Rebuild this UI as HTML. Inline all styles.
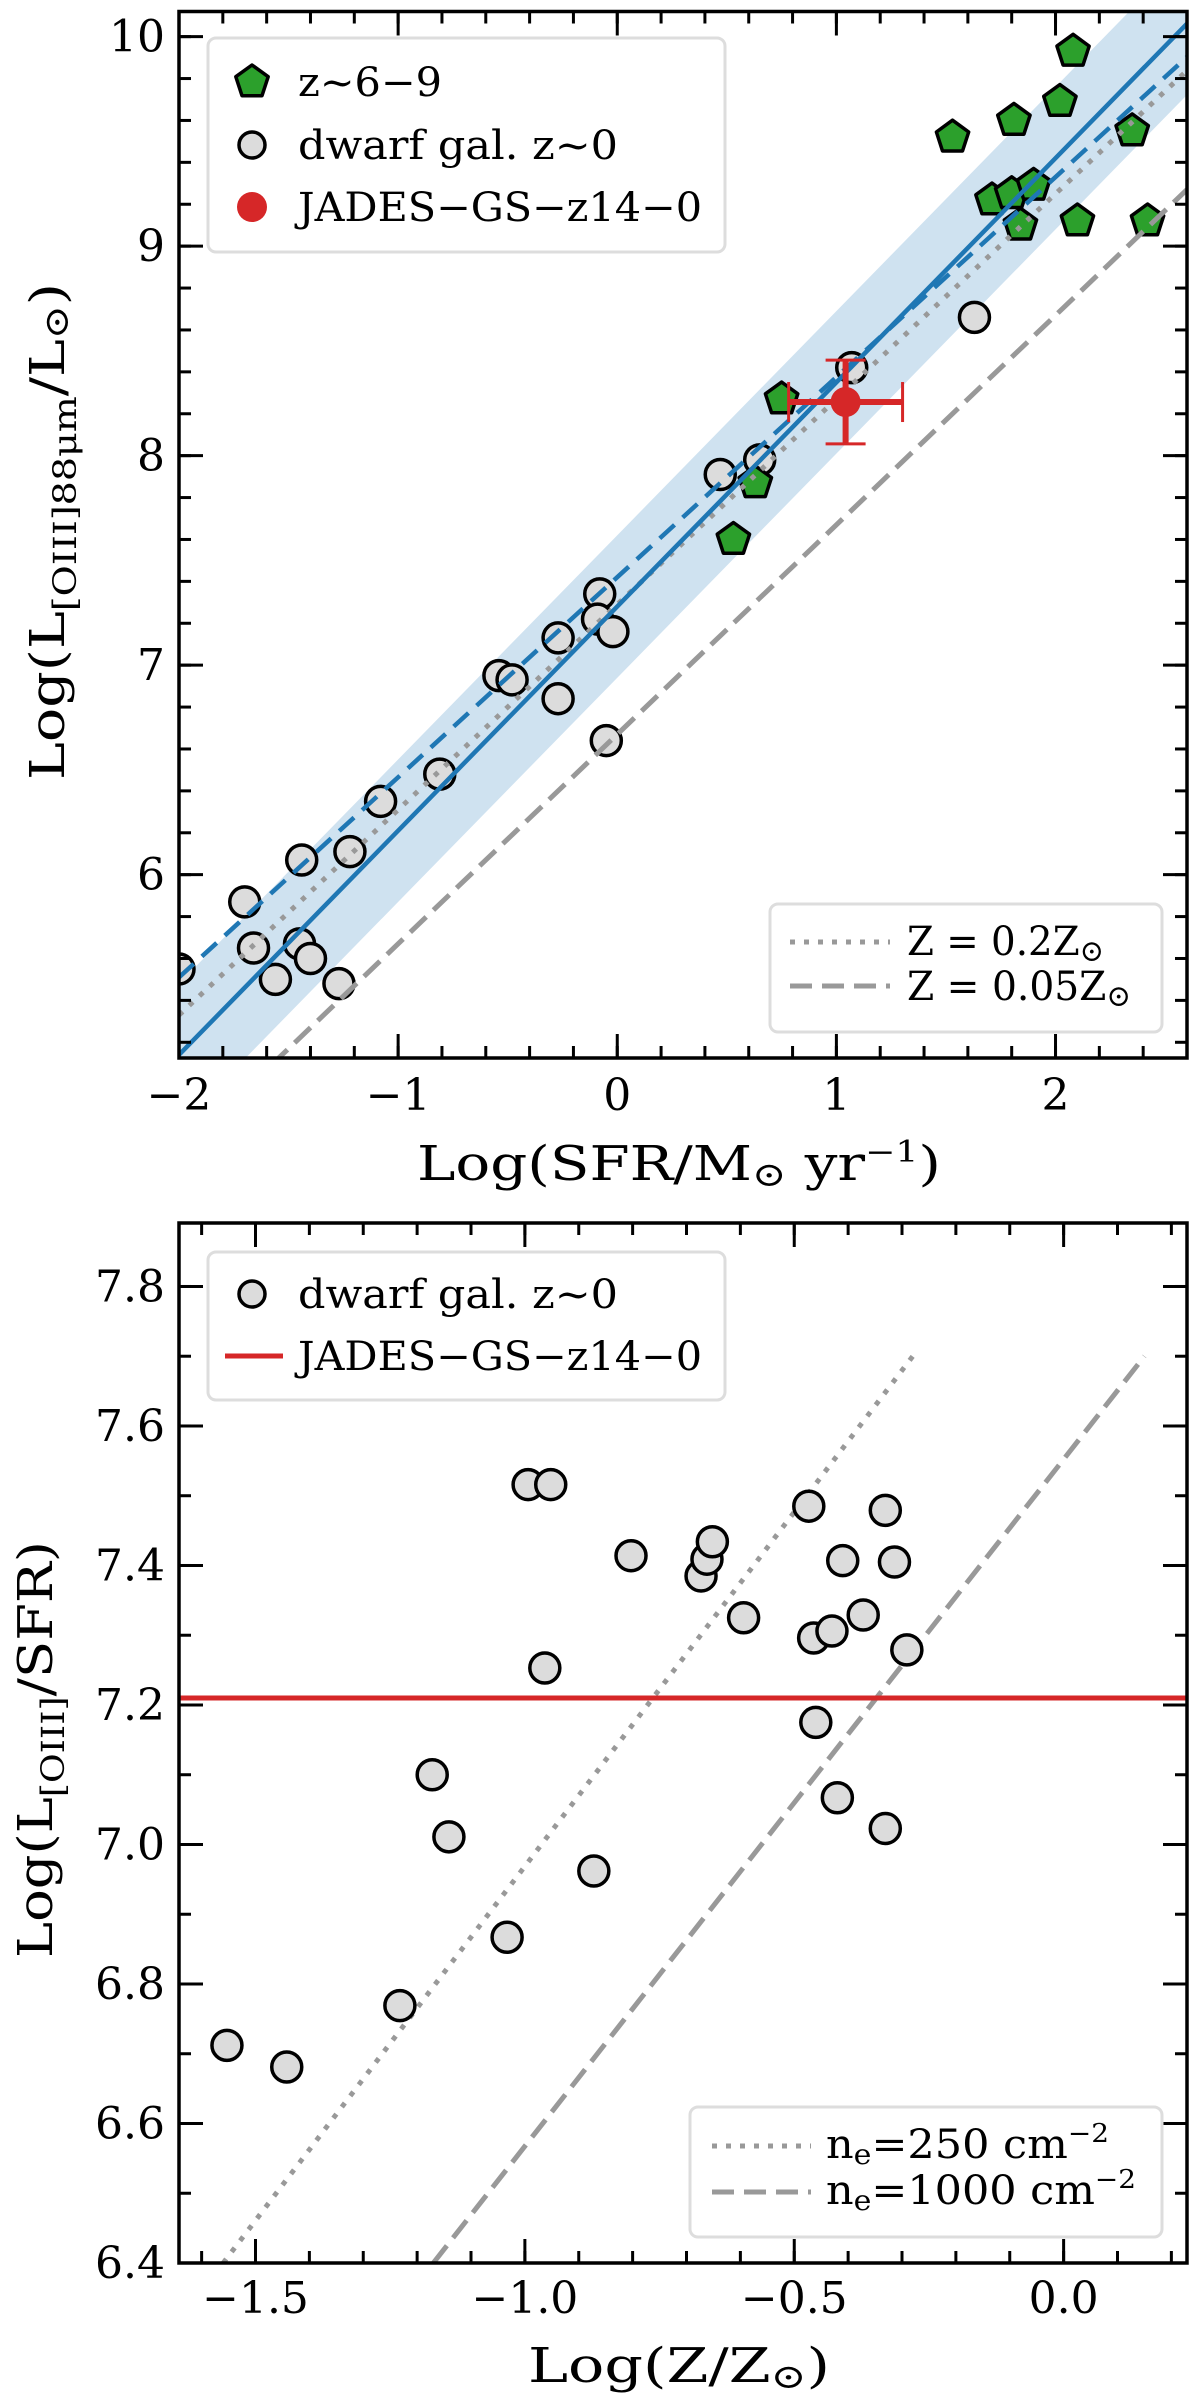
<!DOCTYPE html>
<html><head><meta charset="utf-8"><title>[OIII] vs SFR</title>
<style>
html,body{margin:0;padding:0;background:#fff;}
svg{display:block;}
text{font-family:"DejaVu Serif","Liberation Serif",serif;fill:#000;}
</style></head>
<body>
<svg id="chart" width="1200" height="2408" viewBox="0 0 1200 2408" xmlns="http://www.w3.org/2000/svg"></svg>
<script>
// ---------- Top panel data ----------
const dwarfSfrX = [-2.0,-1.7,-1.66,-1.56,-1.45,-1.44,-1.4,-1.27,-1.22,-1.08,-0.81,-0.54,-0.48,-0.27,-0.27,-0.08,-0.09,-0.02,-0.05,0.47,0.65,1.07,1.63];
const dwarfLumY = [5.55,5.87,5.65,5.50,5.67,6.07,5.60,5.48,6.11,6.35,6.48,6.95,6.93,7.13,6.84,7.34,7.22,7.16,6.64,7.91,7.98,8.42,8.66];
const highzSfrX = [0.53,0.63,0.75,1.53,1.71,1.80,1.81,1.84,1.90,2.02,2.08,2.10,2.35,2.42];
const highzLumY = [7.60,7.87,8.27,9.52,9.22,9.25,9.60,9.10,9.29,9.69,9.93,9.12,9.55,9.12];
const jadesPoint = [1.042, 8.256];
const jadesXErr = [0.26, 0.26];
const jadesYErr = [0.20, 0.20];
const fitSolid = [7.28, 1.07];
const fitBand = [0.34];
const fitDashedBlue = [7.42, 0.955];
const modelDotted = [7.29, 0.98];
const modelDashed = [6.67, 1.0];
const topXTicks = [-2,-1,0,1,2];
const topYTicks = [6,7,8,9,10];

// ---------- Bottom panel data ----------
const metalX = [-1.553,-1.442,-1.232,-1.172,-1.141,-1.033,-0.994,-0.952,-0.963,-0.872,-0.803,-0.673,-0.662,-0.652,-0.594,-0.473,-0.464,-0.460,-0.430,-0.420,-0.410,-0.372,-0.331,-0.331,-0.314,-0.291];
const ratioY = [6.712,6.681,6.769,7.100,7.011,6.867,7.516,7.516,7.253,6.962,7.414,7.385,7.409,7.434,7.325,7.485,7.296,7.175,7.306,7.067,7.407,7.329,7.479,7.023,7.405,7.279];
const jadesRatio = [7.21];
const ne250Line = [[-1.56,6.40],[-0.28,7.70]];
const ne1000Line = [[-1.17,6.40],[0.15,7.70]];
const botXTicks = [-1.5,-1.0,-0.5,0.0];
const botXTickLabels = ["\u22121.5","\u22121.0","\u22120.5","0.0"];
const botYTicks = [6.4,6.6,6.8,7.0,7.2,7.4,7.6,7.8];

const NS = "http://www.w3.org/2000/svg";
const svg = document.getElementById('chart');
function mk(tag, attrs, parent){
  const e = document.createElementNS(NS, tag);
  for (const k in attrs) e.setAttribute(k, attrs[k]);
  (parent||svg).appendChild(e);
  return e;
}

const T = {L:179,R:1187,Tp:11.5,B:1058,x0:-2,x1:2.6,y0:5.125,y1:10.12};
const tx = v => T.L + (v - T.x0) * (T.R - T.L) / (T.x1 - T.x0);
const ty = v => T.B - (v - T.y0) * (T.B - T.Tp) / (T.y1 - T.y0);
const Bo = {L:179,R:1187,Tp:1223,B:2263,x0:-1.642,x1:0.229,y0:6.4,y1:7.891};
const bx = v => Bo.L + (v - Bo.x0) * (Bo.R - Bo.L) / (Bo.x1 - Bo.x0);
const by = v => Bo.B - (v - Bo.y0) * (Bo.B - Bo.Tp) / (Bo.y1 - Bo.y0);

function clipFor(id, A){
  const cp = mk('clipPath',{id:id});
  mk('rect',{x:A.L,y:A.Tp,width:A.R-A.L,height:A.B-A.Tp},cp);
}
clipFor('clipTop',T); clipFor('clipBot',Bo);

// ===== Top panel =====
const gTop = mk('g',{'clip-path':'url(#clipTop)'});


const lineY = (p,x) => p[0] + p[1]*x;
const band = mk('polygon',{points:[
  [tx(T.x0),ty(lineY(fitSolid,T.x0)+fitBand[0])],[tx(T.x1),ty(lineY(fitSolid,T.x1)+fitBand[0])],
  [tx(T.x1),ty(lineY(fitSolid,T.x1)-fitBand[0])],[tx(T.x0),ty(lineY(fitSolid,T.x0)-fitBand[0])]].map(p=>p.join(',')).join(' '),
  fill:'#cfe2f0'},gTop);


dwarfSfrX.forEach((x,i)=>{
  const c = mk('circle',{cx:tx(x),cy:ty(dwarfLumY[i]),r:15,fill:'#dcdcdc',stroke:'#000','stroke-width':3.5},gTop);
  
  
});
function pent(cx,cy,r){
  const pts=[];
  for(let k=0;k<5;k++){const a=-Math.PI/2+k*2*Math.PI/5;pts.push((cx+r*Math.cos(a)).toFixed(1)+','+(cy+r*Math.sin(a)).toFixed(1));}
  return pts.join(' ');
}
highzSfrX.forEach((x,i)=>{
  const p = mk('polygon',{points:pent(tx(x),ty(highzLumY[i]),17),fill:'#2ca02c',stroke:'#000','stroke-width':3.5,'stroke-linejoin':'round'},gTop);
  
  
});
function fitLine(p,attrs,name){
  const l = mk('line',Object.assign({x1:tx(T.x0),y1:ty(lineY(p,T.x0)),x2:tx(T.x1),y2:ty(lineY(p,T.x1))},attrs),gTop);
  
  
}
fitLine(modelDotted,{stroke:'#999','stroke-width':5,'stroke-dasharray':'5 9'},'model-line-0.2zsun');
fitLine(modelDashed,{stroke:'#999','stroke-width':5,'stroke-dasharray':'22 10'},'model-line-0.05zsun');
fitLine(fitDashedBlue,{stroke:'#1f77b4','stroke-width':4.5,'stroke-dasharray':'20 11'},'fit-dashed-line');
fitLine(fitSolid,{stroke:'#1f77b4','stroke-width':4.5},'fit-solid-line');
const gj = mk('g',{stroke:'#d62728','stroke-width':6,fill:'none'},gTop);


const jx=tx(jadesPoint[0]), jy=ty(jadesPoint[1]);
const xl=tx(jadesPoint[0]-jadesXErr[0]), xr=tx(jadesPoint[0]+jadesXErr[1]);
const yt=ty(jadesPoint[1]+jadesYErr[1]), yb=ty(jadesPoint[1]-jadesYErr[0]);
mk('line',{x1:xl,y1:jy,x2:xr,y2:jy},gj);
mk('line',{x1:jx,y1:yt,x2:jx,y2:yb},gj);
mk('line',{x1:xl,y1:jy-20,x2:xl,y2:jy+20,'stroke-width':3},gj);
mk('line',{x1:xr,y1:jy-20,x2:xr,y2:jy+20,'stroke-width':3},gj);
mk('line',{x1:jx-20,y1:yt,x2:jx+20,y2:yt,'stroke-width':3},gj);
mk('line',{x1:jx-20,y1:yb,x2:jx+20,y2:yb,'stroke-width':3},gj);
mk('circle',{cx:jx,cy:jy,r:15,fill:'#d62728',stroke:'none'},gj);

// ===== Bottom panel =====
const gBot = mk('g',{'clip-path':'url(#clipBot)'});


const l250 = mk('line',{x1:bx(ne250Line[0][0]),y1:by(ne250Line[0][1]),x2:bx(ne250Line[1][0]),y2:by(ne250Line[1][1]),stroke:'#999','stroke-width':5,'stroke-dasharray':'5 9'},gBot);


const l1000 = mk('line',{x1:bx(ne1000Line[0][0]),y1:by(ne1000Line[0][1]),x2:bx(ne1000Line[1][0]),y2:by(ne1000Line[1][1]),stroke:'#999','stroke-width':5,'stroke-dasharray':'22 10'},gBot);


const hl = mk('line',{x1:Bo.L,y1:by(jadesRatio[0]),x2:Bo.R,y2:by(jadesRatio[0]),stroke:'#d62728','stroke-width':5},gBot);


metalX.forEach((x,i)=>{
  const c = mk('circle',{cx:bx(x),cy:by(ratioY[i]),r:15,fill:'#dcdcdc',stroke:'#000','stroke-width':3.5},gBot);
  
  
});

function frame(A, xMaj, xMin, yMaj, yMin, sx, sy, name){
  const g = mk('g',{stroke:'#000','stroke-width':3});
  
  
  const tick=(v,len,axis)=>{
    if(axis==='x'){const X=sx(v); if(X<A.L-1||X>A.R+1)return;
      mk('line',{x1:X,y1:A.B,x2:X,y2:A.B-len},g); mk('line',{x1:X,y1:A.Tp,x2:X,y2:A.Tp+len},g);}
    else {const Y=sy(v); if(Y<A.Tp-1||Y>A.B+1)return;
      mk('line',{x1:A.L,y1:Y,x2:A.L+len,y2:Y},g); mk('line',{x1:A.R,y1:Y,x2:A.R-len,y2:Y},g);}
  };
  xMin.forEach(v=>tick(v,12,'x')); xMaj.forEach(v=>tick(v,24,'x'));
  yMin.forEach(v=>tick(v,12,'y')); yMaj.forEach(v=>tick(v,24,'y'));
  mk('rect',{x:A.L,y:A.Tp,width:A.R-A.L,height:A.B-A.Tp,fill:'none','stroke-width':3.5},g);
}
const rng=(a,b,s)=>{const r=[];for(let v=a;v<=b+1e-9;v+=s)r.push(+v.toFixed(3));return r;};
frame(T, topXTicks, rng(-2,2.6,0.2), topYTicks, rng(5.2,10.2,0.2), tx, ty, 'top-axes-frame');
frame(Bo, botXTicks, rng(-1.6,0.2,0.1), botYTicks, rng(6.4,7.9,0.1), bx, by, 'bottom-axes-frame');

function txt(x,y,s,attrs,name){
  const t = mk('text',Object.assign({x:x,y:y},attrs));
  t.textContent = s;
  
  
  return t;
}
topXTicks.forEach(v=>txt(tx(v),1110,v<0?'\u2212'+Math.abs(v):String(v),{'font-size':44,'text-anchor':'middle'},'x-tick-label'));
topYTicks.forEach(v=>txt(165,ty(v)+15,String(v),{'font-size':44,'text-anchor':'end'},'y-tick-label'));
botXTicks.forEach((v,i)=>txt(bx(v),2313,botXTickLabels[i],{'font-size':44,'text-anchor':'middle'},'x-tick-label'));
botYTicks.forEach(v=>txt(165,by(v)+15,v.toFixed(1),{'font-size':44,'text-anchor':'end'},'y-tick-label'));
</script>

<svg style="position:absolute;left:0;top:0" width="1200" height="2408">
  <g font-family="DejaVu Serif, Liberation Serif, serif">
  <text x="417" y="1180" font-size="48" textLength="524" lengthAdjust="spacingAndGlyphs">Log(SFR/M<tspan font-size="34" dy="6">⊙</tspan><tspan dy="-6"> yr</tspan><tspan font-size="30" dy="-18">−1</tspan><tspan dy="18">)</tspan></text>
  <text transform="translate(64,780) rotate(-90)" font-size="48" textLength="497" lengthAdjust="spacingAndGlyphs">Log(L<tspan font-size="32" dy="12">[OIII]88μm</tspan><tspan dy="-12">/L</tspan><tspan font-size="34" dy="4">⊙</tspan><tspan dy="-4">)</tspan></text>
  <text x="528" y="2382" font-size="48" textLength="302" lengthAdjust="spacingAndGlyphs">Log(Z/Z<tspan font-size="34" dy="6">⊙</tspan><tspan dy="-6">)</tspan></text>
  <text transform="translate(52,1958) rotate(-90)" font-size="48" textLength="417" lengthAdjust="spacingAndGlyphs">Log(L<tspan font-size="32" dy="12">[OIII]</tspan><tspan dy="-12">/SFR)</tspan></text>
  </g>

  <g font-family="DejaVu Serif, Liberation Serif, serif" font-size="40">
    <rect x="208" y="38" width="517" height="214" rx="8" fill="#fff" stroke="#ddd" stroke-width="3"/>
    <polygon points="252,65 268.2,76.7 262,95.7 242,95.7 235.8,76.7" fill="#2ca02c" stroke="#000" stroke-width="3.5" stroke-linejoin="round"/>
    <text x="298" y="96" textLength="144" lengthAdjust="spacingAndGlyphs">z~6−9</text>
    <circle cx="252" cy="145" r="13" fill="#dcdcdc" stroke="#000" stroke-width="3.5"/>
    <text x="298" y="159" textLength="320" lengthAdjust="spacingAndGlyphs">dwarf gal. z~0</text>
    <circle cx="252" cy="207" r="15" fill="#d62728"/>
    <text x="298" y="221" textLength="404" lengthAdjust="spacingAndGlyphs">JADES−GS−z14−0</text>
  </g>
  <g font-family="DejaVu Serif, Liberation Serif, serif" font-size="40">
    <rect x="770" y="904" width="392" height="128" rx="8" fill="#fff" stroke="#ddd" stroke-width="3"/>
    <line x1="790" y1="942" x2="890" y2="942" stroke="#999" stroke-width="5" stroke-dasharray="5 9"/>
    <text x="907" y="955" textLength="197" lengthAdjust="spacingAndGlyphs">Z = 0.2Z<tspan font-size="30" dy="6">⊙</tspan></text>
    <line x1="790" y1="986" x2="890" y2="986" stroke="#999" stroke-width="5" stroke-dasharray="22 10"/>
    <text x="907" y="1000" textLength="224" lengthAdjust="spacingAndGlyphs">Z = 0.05Z<tspan font-size="30" dy="6">⊙</tspan></text>
  </g>

  <g font-family="DejaVu Serif, Liberation Serif, serif" font-size="40">
    <rect x="208" y="1252" width="517" height="148" rx="8" fill="#fff" stroke="#ddd" stroke-width="3"/>
    <circle cx="252" cy="1294" r="13" fill="#dcdcdc" stroke="#000" stroke-width="3.5"/>
    <text x="298" y="1308" textLength="320" lengthAdjust="spacingAndGlyphs">dwarf gal. z~0</text>
    <line x1="225" y1="1356" x2="283" y2="1356" stroke="#d62728" stroke-width="5"/>
    <text x="298" y="1370" textLength="404" lengthAdjust="spacingAndGlyphs">JADES−GS−z14−0</text>
  </g>
  <g font-family="DejaVu Serif, Liberation Serif, serif" font-size="40">
    <rect x="690" y="2107" width="472" height="130" rx="8" fill="#fff" stroke="#ddd" stroke-width="3"/>
    <line x1="712" y1="2146" x2="811" y2="2146" stroke="#999" stroke-width="5" stroke-dasharray="5 9"/>
    <text x="826" y="2158" textLength="283" lengthAdjust="spacingAndGlyphs">n<tspan font-size="28" dy="6">e</tspan><tspan dy="-6">=250 cm</tspan><tspan font-size="26" dy="-16">−2</tspan></text>
    <line x1="712" y1="2192" x2="811" y2="2192" stroke="#999" stroke-width="5" stroke-dasharray="22 10"/>
    <text x="826" y="2204" textLength="310" lengthAdjust="spacingAndGlyphs">n<tspan font-size="28" dy="6">e</tspan><tspan dy="-6">=1000 cm</tspan><tspan font-size="26" dy="-16">−2</tspan></text>
  </g>
</svg>
</body></html>
